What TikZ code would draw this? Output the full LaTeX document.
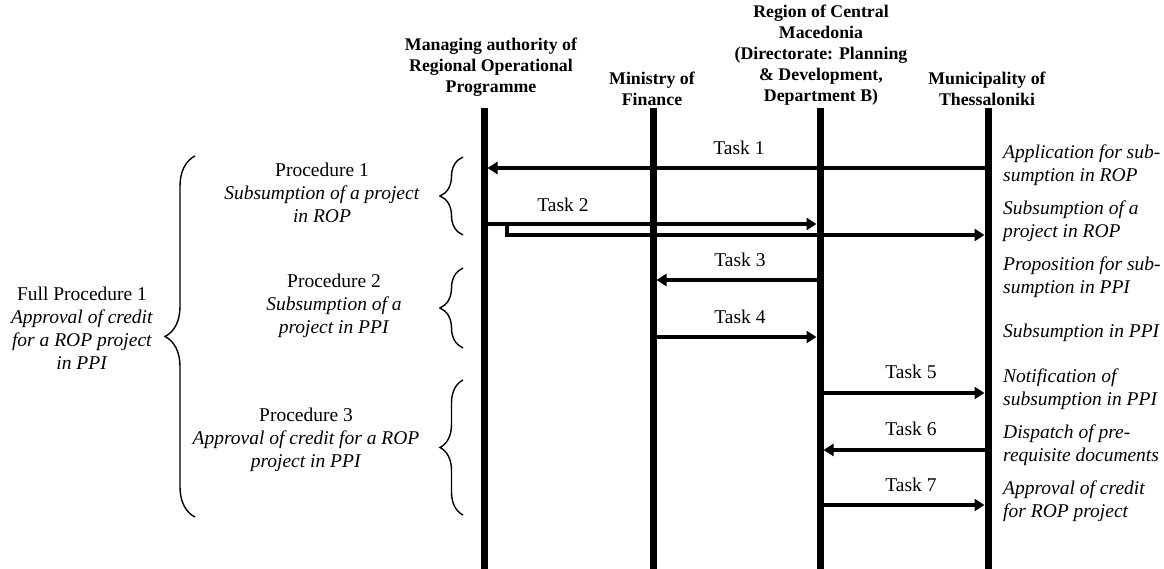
\documentclass[tikz,border=0pt]{standalone}
\usepackage{fontspec}
\setmainfont{Liberation Serif}
\usetikzlibrary{arrows.meta,decorations.pathreplacing}
\tikzset{
  lifeline/.style={line width=7pt},
  msg/.style={line width=4pt,-{Triangle[length=10pt,width=12pt]}},
  plainmsg/.style={line width=4pt},
  hdr/.style={align=center,inner sep=0pt,font=\fontsize{17.8}{21}\selectfont\bfseries},
  lbl/.style={align=center,inner sep=0pt,font=\fontsize{19.5}{23}\selectfont},
  note/.style={align=left,anchor=west,inner sep=0pt,font=\fontsize{19.5}{23}\selectfont\itshape},
  bigbrace/.style={decorate,decoration={brace,amplitude=30pt},line width=1.4pt},
  smallbrace/.style={decorate,decoration={brace,amplitude=23pt},line width=1.4pt}
}
\begin{document}
\begin{tikzpicture}[x=1pt,y=-1pt]
\useasboundingbox (0,0) rectangle (1164,569);
% headers
\node[hdr] (h1) at (491,67) {Managing authority of\\Regional Operational\\Programme};
\node[hdr] (h2) at (652,88.5) {Ministry of\\Finance};
\node[hdr] (h3) at (821,55) {Region of Central\\Macedonia\\(Directorate: Planning\\\& Development,\\Department B)};
\node[hdr] (h4) at (987,88.5) {Municipality of\\Thessaloniki};
% lifelines
\coordinate (t1) at (484,108); \coordinate (b1) at (484,569);
\coordinate (t2) at (653,108); \coordinate (b2) at (653,569);
\coordinate (t3) at (820,108); \coordinate (b3) at (820,569);
\coordinate (t4) at (988,108); \coordinate (b4) at (988,569);
\draw[lifeline] (t1) -- (b1);
\draw[lifeline] (t2) -- (b2);
\draw[lifeline] (t3) -- (b3);
\draw[lifeline] (t4) -- (b4);
% message end points
\coordinate (m1s) at (984.5,168); \coordinate (m1e) at (487.5,168);
\coordinate (m2s) at (487.5,224); \coordinate (m2e) at (816.5,224);
\coordinate (m2b) at (507,224);   \coordinate (m2be) at (984.5,235);
\coordinate (m3s) at (816.5,280); \coordinate (m3e) at (656.5,280);
\coordinate (m4s) at (656.5,337); \coordinate (m4e) at (816.5,337);
\coordinate (m5s) at (823.5,393); \coordinate (m5e) at (984.5,393);
\coordinate (m6s) at (984.5,450); \coordinate (m6e) at (823.5,450);
\coordinate (m7s) at (823.5,505); \coordinate (m7e) at (984.5,505);
\draw[msg] (m1s) -- (m1e);
\draw[msg] (m2s) -- (m2e);
\draw[msg] (m2b) |- (m2be);
\draw[msg] (m3s) -- (m3e);
\draw[msg] (m4s) -- (m4e);
\draw[msg] (m5s) -- (m5e);
\draw[msg] (m6s) -- (m6e);
\draw[msg] (m7s) -- (m7e);
% task labels
\node[lbl] (k1) at (739,148) {Task 1};
\node[lbl] (k2) at (563,205) {Task 2};
\node[lbl] (k3) at (740,260) {Task 3};
\node[lbl] (k4) at (740,317) {Task 4};
\node[lbl] (k5) at (911,372) {Task 5};
\node[lbl] (k6) at (911,429) {Task 6};
\node[lbl] (k7) at (911,485) {Task 7};
% right notes
\node[note] (n1) at (1003,165.5) {Application for sub-\\sumption in ROP};
\node[note] (n2) at (1003,221.5) {Subsumption of a\\project in ROP};
\node[note] (n3) at (1003,277.5) {Proposition for sub-\\sumption in PPI};
\node[note] (n4) at (1003,333) {Subsumption in PPI};
\node[note] (n5) at (1003,389.5) {Notification of\\subsumption in PPI};
\node[note] (n6) at (1003,445.5) {Dispatch of pre-\\requisite documents};
\node[note] (n7) at (1003,501.5) {Approval of credit\\for ROP project};
% braces
\coordinate (B0a) at (195,517); \coordinate (B0b) at (195,156);
\coordinate (B1a) at (463,235); \coordinate (B1b) at (463,157);
\coordinate (B2a) at (463,348); \coordinate (B2b) at (463,268);
\coordinate (B3a) at (463,515); \coordinate (B3b) at (463,380);
\draw[bigbrace] (B0a) -- (B0b);
\draw[smallbrace] (B1a) -- (B1b);
\draw[smallbrace] (B2a) -- (B2b);
\draw[smallbrace] (B3a) -- (B3b);
% procedure texts
\node[lbl] (p0) at (82,328) {Full Procedure 1\\\textit{Approval of credit}\\\textit{for a ROP project}\\\textit{in PPI}};
\node[lbl] (p1) at (322,193) {Procedure 1\\\textit{Subsumption of a project}\\\textit{in ROP}};
\node[lbl] (p2) at (334,306) {Procedure 2\\\textit{Subsumption of a}\\\textit{project in PPI}};
\node[lbl] (p3) at (306,440) {Procedure 3\\\textit{Approval of credit for a ROP}\\\textit{project in PPI}};
\end{tikzpicture}
\end{document}
